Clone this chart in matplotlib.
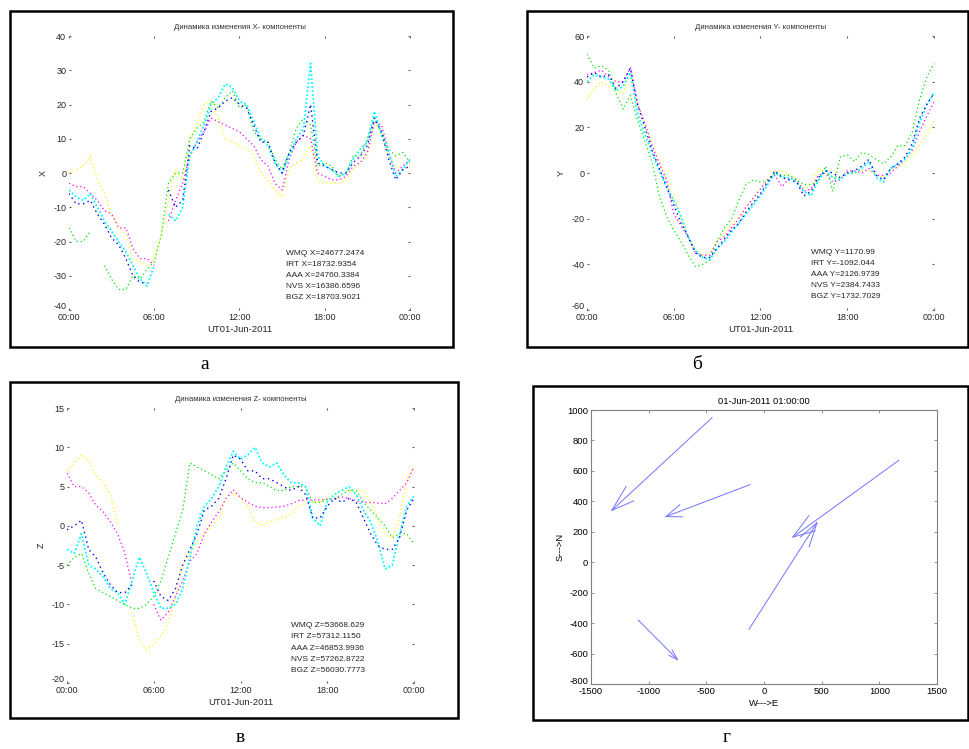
import numpy as np
import matplotlib
matplotlib.use('Agg')
import matplotlib.pyplot as plt
from matplotlib.patches import Rectangle
from matplotlib.transforms import ScaledTranslation

plt.rcParams['font.family'] = ['Liberation Sans', 'DejaVu Sans']
plt.rcParams['axes.unicode_minus'] = False

W, H = 970., 749.

# time grid, hours UT (half-hour steps)
hours = np.arange(0, 24.5, 0.5)
nan = np.nan

stations = ['WMQ', 'IRT', 'AAA', 'NVS', 'BGZ']

# X component, nT deviation
x_wmq = [-6, -9, -9, -8, -12, -15, -19, -21, -25, -30, -32, -32, nan, nan, -5, -10, -8, 8, 7, 12, 18, 19, 21, 22, 20,
         19, 14, 9, 9, 3, 0, 6, 9, 11, 20, 3, 2, 1, 0, 0, 3, 5, 8, 16, 12, 4, -2, 1, 2]
x_irt = [-16, -20, -20, -17, nan, -27, -31, -34, -34, -30, -31, -28, -26, -18, -3, 0, 0, 10, 13, 15, 21, 19, 22, 24, 19,
         20, 12, 10, 9, 4, 1, 6, 13, 16, 14, 2, 3, 2, -1, 0, 5, 5, 10, 16, 12, 7, 5, 6, 3]
x_aaa = [-3, -4, -4, -6, -8, -11, -12, -16, -16, -22, -25, -25, -27, nan, -14, -8, -3, 5, 9, 12, 16, 15, 14, 13, 12,
         10, 8, 4, 2, -3, -5, 4, 9, 11, 10, 0, -1, -2, -2, -1, 2, 3, 6, 15, 14, 6, 0, 2, 4]
x_nvs = [0, 1, 2, 5, -2, -6, -12, -16, -18, -25, -26, -27, -25, -18, -8, 1, -2, 10, 14, 20, 21, 16, 10, 9, 8,
         7, 5, 0, -2, -5, -7, 1, 3, 4, 8, -2, -3, -3, -3, -2, 1, 3, 5, 15, 11, 5, 2, 1, 2]
x_bgz = [-5, -7, -8, -6, -10, -14, -17, -20, -23, -27, -31, -33, -27, nan, -12, -14, -10, 5, 9, 14, 20, 22, 26, 25, 21,
         20, 15, 10, 8, 3, 0, 5, 10, 13, 32, 5, 2, 1, -1, 0, 4, 7, 9, 18, 11, 6, -1, 1, 4]

# Y component
y_wmq = [42, 44, 42, 43, 37, 40, 46, 30, 20, 10, 2, -6, -14, -22, -28, -35, -37, -37, -33, -29, -25, -22, -17, -13, -9,
         -4, 1, -2, -3, -4, -10, -8, -2, 1, 0, -2, 0, 1, 3, 6, -1, -3, 2, 4, 7, 13, 24, 30, 35]
y_irt = [52, 46, 47, 45, 35, 28, 34, 23, 14, 5, -10, -19, -25, -30, -36, -41, -40, -38, -30, -24, -20, -12, -5, -3, -4,
         -3, 0, -1, -1, -3, -5, -5, -4, 3, -8, 7, 8, 5, 9, 8, 6, 4, 7, 12, 12, 18, 32, 42, 48]
y_aaa = [43, 44, 45, 42, 40, 40, 46, 30, 22, 12, 4, -3, -18, -23, -28, -35, -36, -36, -30, -28, -24, -20, -15, -11, -7,
         -3, -1, -6, -2, -3, -8, -7, -1, 0, -4, -3, 1, 1, 0, 2, -1, -1, 0, 3, 6, 10, 18, 25, 31]
y_nvs = [32, 37, 40, 38, 36, 35, 44, 30, 21, 12, 6, -3, -10, -20, -28, -33, -36, -35, -30, -27, -23, -19, -15, -11, -7,
         -3, 1, 1, -1, -3, -7, -6, 2, 1, -2, -2, 0, 0, 1, 1, -1, -2, 1, 3, 4, 8, 12, 17, 23]
y_bgz = [40, 43, 42, 41, 36, 38, 44, 26, 17, 9, 1, -6, -12, -19, -28, -34, -37, -38, -33, -30, -26, -22, -18, -14, -10,
         -5, 0, -2, -2, -4, -8, -10, -3, 1, -2, -3, 0, 0, 2, 5, -2, -4, 2, 4, 6, 11, 22, 30, 35]

# Z component
z_wmq = [-0.5, 0, 0.7, -3, -4, -6, -7.5, -8.5, -8.5, -7.5, nan, nan, -7, -9, -9.5, -8, -5, -3, -1, 2, 2.5, 3.5, 6, 9, 8.5,
         7, 7, 6, 6, 5.5, 5, 4.5, 5, 4, 1, 1, 2.5, 3.5, 3, 3.5, 3, 1, -1, -2.5, -3, -3, -1.5, 2, 3.5]
z_irt = [-5, -4, -3.5, -6, -8, -8.5, -9, -9.5, -10, -10.5, -10.5, -10, -9, -7, -4, -1, 2, 8, 7.5, 7, 6.5, 6, 7, 8, 7,
         6, 5.5, 5.5, 5, 4.5, 4.5, 5, 5, 5, 3, 3, 3.3, 3.5, 4, 4.5, 4.5, 3, 2, 1, 0, -1.5, -1, -1, -2.3]
z_aaa = [6.7, 5, 5, 4.2, 2.6, 1.8, 0.5, -1, -3.5, -7.5, nan, nan, -10, -12, -11, -9, -7, -4.5, -3.5, -1, 0.5, 1.8, 3.5, 4.6, 3.6,
         3, 2.5, 2.3, 2.3, 2.4, 2.5, 2.8, 3.2, 3.3, 3.3, 3.3, 3.4, 3.5, 3.7, 3.5, 3.2, 3, 3, 2.9, 2.8, 3.5, 4.5, 5.5, 7.5]
z_nvs = [7, 8, 9, 8.4, 6.5, 5.5, 4, 0, nan, -11, -14.5, -15.8, -15, -14, -12.5, -9, -5, -3.5, -2, -1, 0, 1, 3.5, 4.2, 3.5,
         2.5, 0.5, 0, 0.5, 0.8, 1.1, 1.5, 2.5, 3, 3, 3, 3.5, 4, 4.5, 4.5, 4.5, 4.5, 3, 1, -1, -1.5, 1, 6, 7.5]
z_bgz = [-3, -3.5, -1, -5, -5.5, -6.5, -8, -8.5, -10, -7, -4, -6, -8.5, -10.5, -10.5, -10, -8, -4, 0, 2.5, 3.5, 5, 7.5, 9.5, 8.5,
         9, 10, 8, 7.5, 8, 6.5, 5.5, 5.5, 5, 1, 0, 3, 4, 4.5, 5, 4, 2, 0.5, -2, -5.5, -5, -1, 2.5, 3.8]

x_labels = ['WMQ X=24677.2474', 'IRT X=18732.9354', 'AAA X=24760.3384', 'NVS X=16386.6596', 'BGZ X=18703.9021']
y_labels = ['WMQ Y=1170.99', 'IRT Y=-1092.044', 'AAA Y=2126.9739', 'NVS Y=2384.7433', 'BGZ Y=1732.7029']
z_labels = ['WMQ Z=53668.629', 'IRT Z=57312.1150', 'AAA Z=46853.9936', 'NVS Z=57262.8722', 'BGZ Z=56030.7773']

time_ticks = [0, 6, 12, 18, 24]
time_ticklabels = ['00:00', '06:00', '12:00', '18:00', '00:00']

# arrows (W->E, S->N), tail and head
tail_e = [-450, -120, 1170, -130, -1090]
tail_n = [950, 510, 670, -440, -380]
head_e = [-1320, -850, 250, 460, -750]
head_n = [340, 300, 165, 260, -640]

colors = {'WMQ': (0, 0, 1), 'IRT': (0, 0.9, 0), 'AAA': (1, 0, 1), 'NVS': (1, 1, 0), 'BGZ': (0, 1, 1)}
draw_order = ['NVS', 'AAA', 'IRT', 'BGZ', 'WMQ']

fig = plt.figure(figsize=(W / 100, H / 100), dpi=100)
fig.patch.set_facecolor('white')


def px_axes(x0, y0, x1, y1):
    return fig.add_axes([x0 / W, 1 - y1 / H, (x1 - x0) / W, (y1 - y0) / H])


def frame(x0, y0, x1, y1):
    fig.patches.append(Rectangle((x0 / W, 1 - y1 / H), (x1 - x0) / W, (y1 - y0) / H,
                                 transform=fig.transFigure, fill=False, ec='black', lw=1.8))


def lift_lowest_label(ax, pts):
    # the lowest y label sits just above the first time label, as in the original
    lab = ax.get_yticklabels()[0]
    lab.set_transform(lab.get_transform() + ScaledTranslation(0, pts / 72., fig.dpi_scale_trans))


def comp_panel(ax, series, labels, title, comp, ylim, yticks, txt_t, txt_y0, txt_dy):
    for st in draw_order:
        i = stations.index(st)
        if st == 'BGZ':
            ax.plot(hours, series[i], color=colors[st], lw=1.3, ls=(0, (1, 1.2)))
        elif st == 'WMQ':
            ax.plot(hours, series[i], color=colors[st], lw=1.0, ls=(0, (1, 2.5)))
        else:
            ax.plot(hours, series[i], color=colors[st], lw=0.9, ls=(0, (1, 2.2)))
    ax.set_xlim(0, 24)
    ax.set_ylim(*ylim)
    ax.set_yticks(yticks)
    ax.set_xticks(time_ticks)
    ax.set_xticklabels(time_ticklabels)
    for s in ax.spines.values():
        s.set_visible(False)
    ax.tick_params(direction='in', length=1.5, width=0.8, color='0.35', labelsize=6.5, pad=2,
                   top=True, right=True, labelcolor='0.15')
    ax.set_title(title, fontsize=5.6, pad=5, color='0.2')
    ax.set_xlabel('UT01-Jun-2011', fontsize=6.8, labelpad=2, color='0.15')
    ax.set_ylabel(comp, fontsize=6.5, labelpad=4, color='0.15')
    for k, lab in enumerate(labels):
        ax.text(txt_t, txt_y0 - k * txt_dy, lab, fontsize=6.0, color='0.15', va='center')
    lift_lowest_label(ax, 3.5)


series_x = [x_wmq, x_irt, x_aaa, x_nvs, x_bgz]
series_y = [y_wmq, y_irt, y_aaa, y_nvs, y_bgz]
series_z = [z_wmq, z_irt, z_aaa, z_nvs, z_bgz]

# panel a
ax1 = px_axes(69, 36, 410, 310)
comp_panel(ax1, series_x, x_labels, 'Динамика изменения X- компоненты', 'X',
           (-40, 40), np.arange(-40, 41, 10), 15.3, -23.5, 3.2)
frame(10, 11, 453, 347)

# panel b
ax2 = px_axes(587, 36, 934, 310)
comp_panel(ax2, series_y, y_labels, 'Динамика изменения Y- компоненты', 'Y',
           (-60, 60), np.arange(-60, 61, 20), 15.5, -35, 4.8)
frame(527, 11, 968, 347)

# panel c
ax3 = px_axes(67, 408, 414, 683)
comp_panel(ax3, series_z, z_labels, 'Динамика изменения Z- компоненты', 'Z',
           (-20, 15), np.arange(-20, 16, 5), 15.5, -12.7, 1.44)
frame(10, 382, 458, 718)

# panel d
ax4 = px_axes(591, 410, 937, 684)
te, tn = np.array(tail_e, float), np.array(tail_n, float)
he, hn = np.array(head_e, float), np.array(head_n, float)
u, v = he - te, hn - tn
alpha, beta = 0.18, 0.3
acol = (0.45, 0.45, 1)
for k in range(len(te)):
    b1 = (he[k] - alpha * (u[k] + beta * v[k]), hn[k] - alpha * (v[k] - beta * u[k]))
    b2 = (he[k] - alpha * (u[k] - beta * v[k]), hn[k] - alpha * (v[k] + beta * u[k]))
    ax4.plot([te[k], he[k]], [tn[k], hn[k]], color=acol, lw=0.7)
    ax4.plot([b1[0], he[k], b2[0]], [b1[1], hn[k], b2[1]], color=acol, lw=0.7)
ax4.set_xlim(-1500, 1500)
ax4.set_ylim(-800, 1000)
ax4.set_xticks(np.arange(-1500, 1501, 500))
ax4.set_yticks(np.arange(-800, 1001, 200))
for s in ax4.spines.values():
    s.set_color('0.5')
    s.set_linewidth(0.8)
ax4.tick_params(direction='in', length=2.5, width=0.6, color='0.5', labelsize=6.8, pad=2,
                top=True, right=True)
ax4.set_title('01-Jun-2011 01:00:00', fontsize=6.8, pad=4)
ax4.set_xlabel('W--->E', fontsize=6.8, labelpad=2)
ax4.set_ylabel('S--->N', fontsize=6.8, labelpad=2)
lift_lowest_label(ax4, 2.5)
frame(533, 386, 968, 720)

# captions
cap = dict(fontsize=14, family=['Liberation Serif', 'DejaVu Serif'], ha='center', va='center')
fig.text(205 / W, 1 - 364 / H, 'а', **cap)
fig.text(697 / W, 1 - 364 / H, 'б', **cap)
fig.text(240 / W, 1 - 738 / H, 'в', **cap)
fig.text(727 / W, 1 - 738 / H, 'г', **cap)

fig.savefig('out.png', dpi=100, facecolor='white')
